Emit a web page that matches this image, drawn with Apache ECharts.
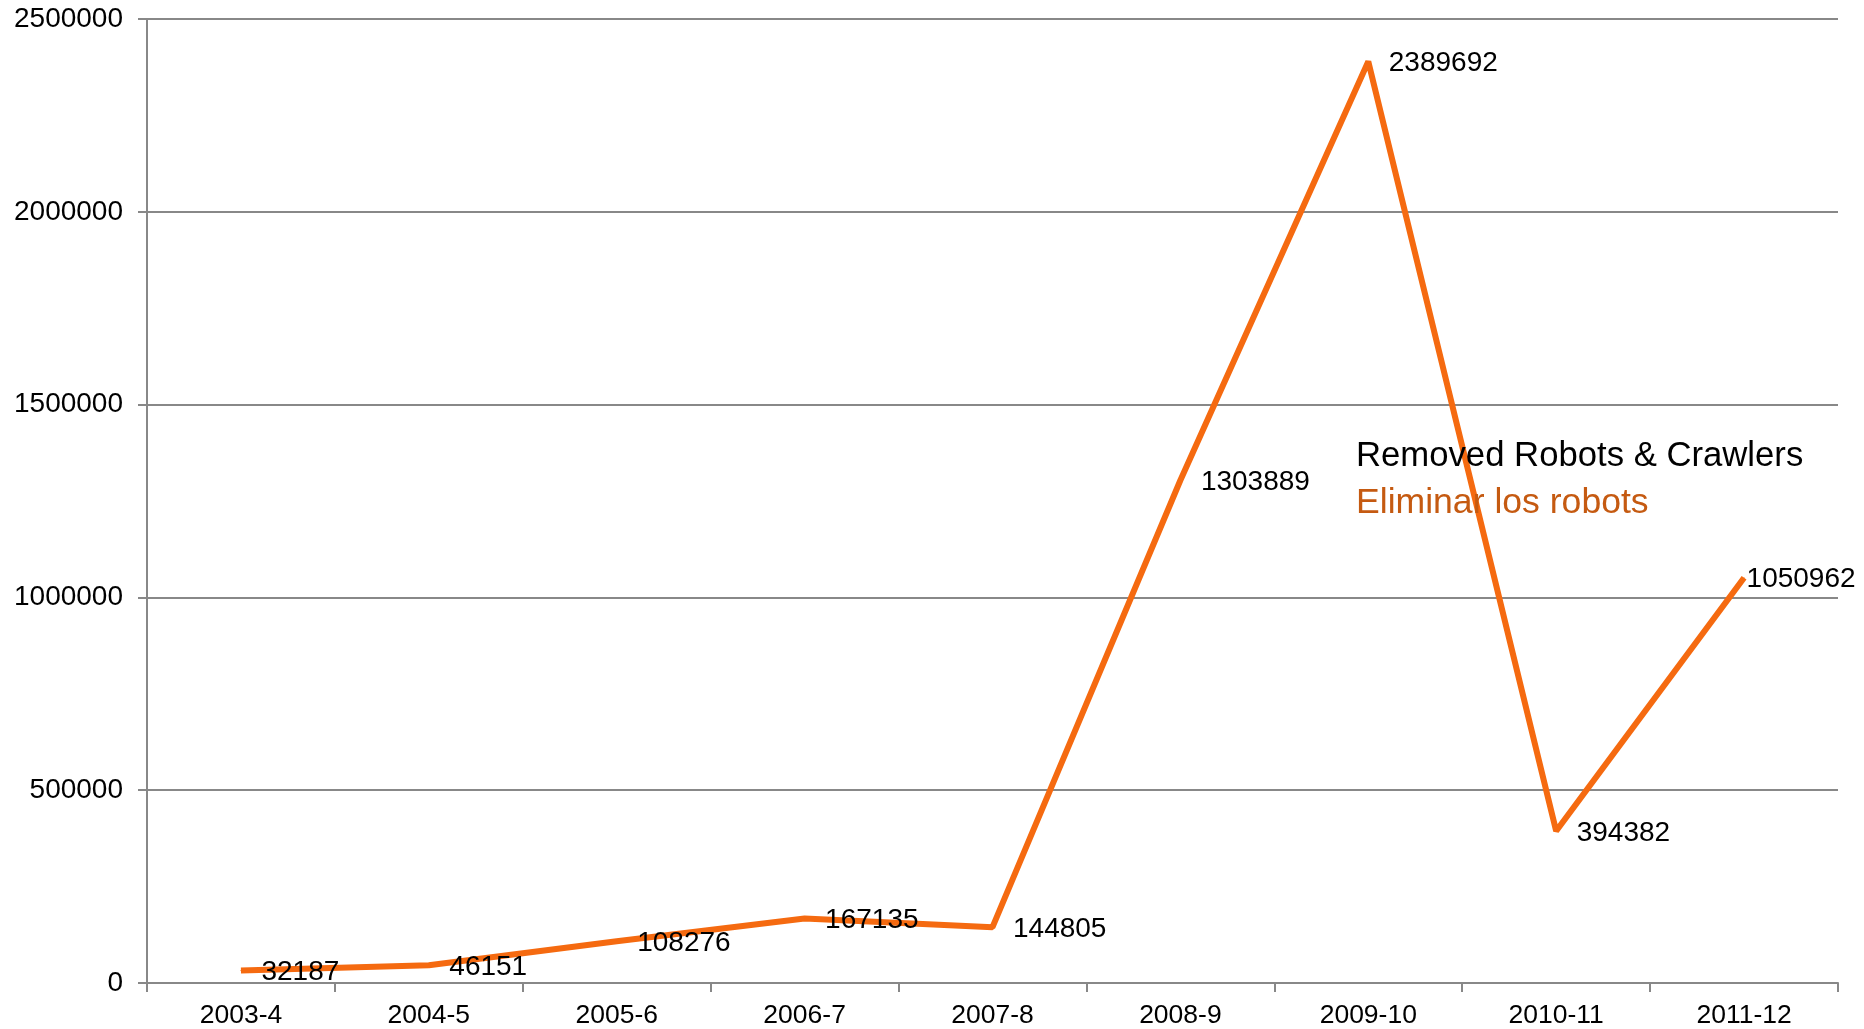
<!DOCTYPE html>
<html>
<head>
<meta charset="utf-8">
<script src="https://cdn.jsdelivr.net/npm/echarts@6/dist/echarts.min.js"></script>
<style>html,body{margin:0;padding:0;background:#fff}#c{width:1864px;height:1029px}</style>
</head>
<body>
<div id="c"></div>
<script>
const categories = ['2003-4','2004-5','2005-6','2006-7','2007-8','2008-9','2009-10','2010-11','2011-12'];
const values = [32187, 46151, 108276, 167135, 144805, 1303889, 2389692, 394382, 1050962];
const yTicks = [0, 500000, 1000000, 1500000, 2000000, 2500000];
const titleText = 'Removed Robots & Crawlers';
const seriesName = 'Eliminar los robots';

const FONT = '"Liberation Sans", Arial, sans-serif';
const chart = echarts.init(document.getElementById('c'));
const data = values.map((v, i) => {
  const d = { value: v };
  if (i === values.length - 1) d.label = { distance: 2 };
  return d;
});
chart.setOption({
  animation: false,
  backgroundColor: '#fff',
  title: {
    text: titleText, left: 1351, top: 434,
    textStyle: { fontFamily: FONT, fontSize: 34.7, fontWeight: 'normal', color: '#000' }
  },
  legend: {
    data: [seriesName], left: 1346, top: 480, icon: 'none', itemWidth: 0, itemGap: 0,
    textStyle: { fontFamily: FONT, fontSize: 35.6, color: '#C55A11' }
  },
  grid: { left: 147, right: 26, top: 19, bottom: 42 },
  xAxis: {
    type: 'category', data: categories, boundaryGap: true,
    axisLine: { lineStyle: { color: '#888', width: 2 } },
    axisTick: { show: true, length: 9, lineStyle: { color: '#888', width: 2 } },
    axisLabel: { fontFamily: FONT, fontSize: 26.5, color: '#000', margin: 19 }
  },
  yAxis: {
    type: 'value', min: yTicks[0], max: yTicks[yTicks.length - 1], interval: yTicks[1] - yTicks[0],
    axisLine: { show: true, lineStyle: { color: '#888', width: 2 } },
    axisTick: { show: true, length: 9, lineStyle: { color: '#888', width: 2 } },
    splitLine: { lineStyle: { color: '#888', width: 2 } },
    axisLabel: { fontFamily: FONT, fontSize: 28, color: '#000', margin: 24, formatter: v => String(v) }
  },
  series: [{
    name: seriesName, type: 'line', data: data,
    symbol: 'circle', symbolSize: 1, showSymbol: true,
    lineStyle: { color: '#F56A10', width: 6 },
    itemStyle: { color: '#F56A10' },
    label: { show: true, position: 'right', distance: 20, offset: [0, 2], fontFamily: FONT, fontSize: 28, color: '#000' }
  }]
});
</script>
</body>
</html>
